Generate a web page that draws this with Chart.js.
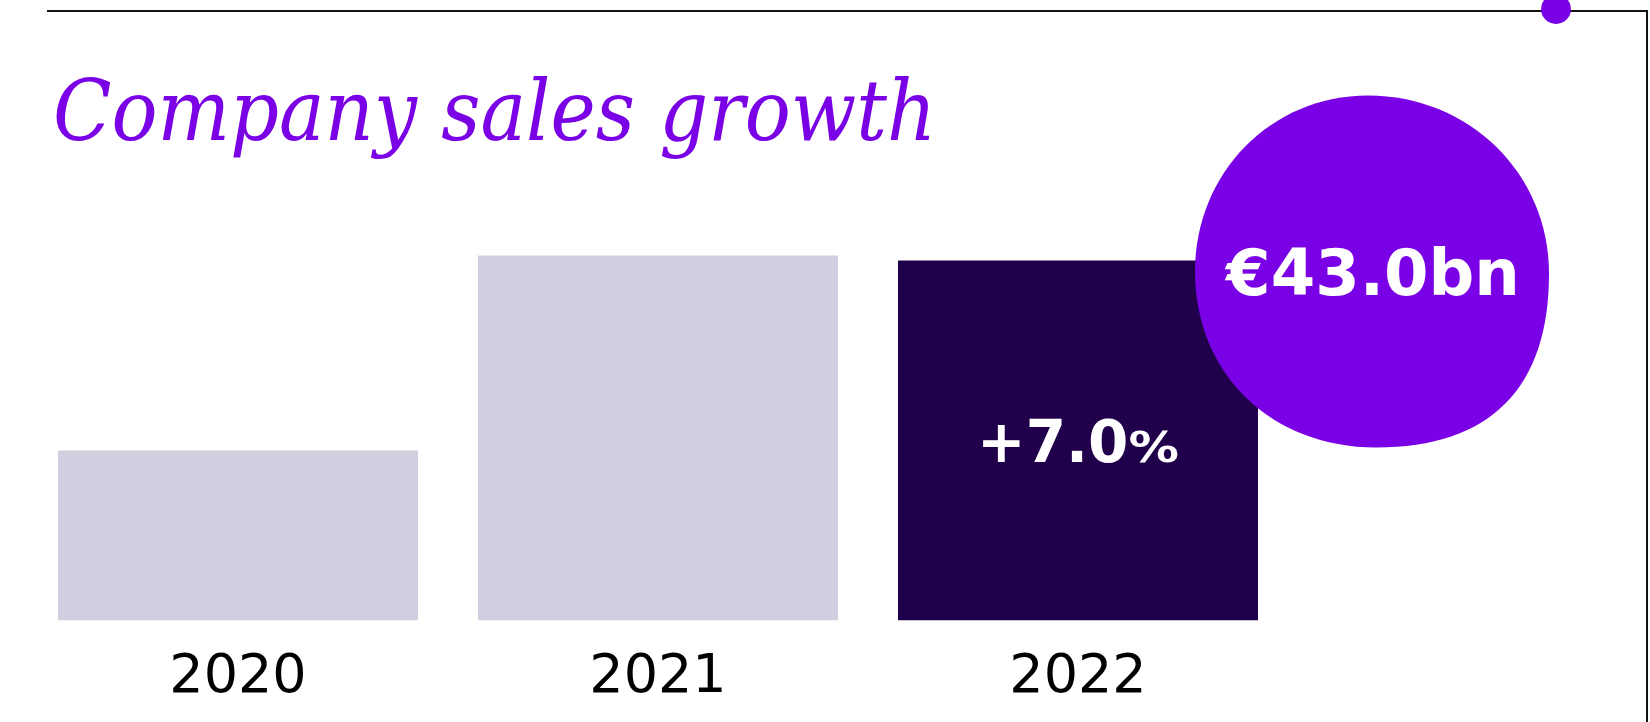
<!DOCTYPE html>
<html>
<head>
<meta charset="utf-8">
<title>Company sales growth</title>
<script src="https://cdn.jsdelivr.net/npm/chart.js@4.4.0/dist/chart.umd.min.js"></script>
<style>
  html, body { margin: 0; padding: 0; background: #fff; }
  #wrap { width: 1650px; height: 722px; }
</style>
</head>
<body>
<div id="wrap"><canvas id="salesChart" width="1650" height="722"></canvas></div>
<script>
// sales in € bn per year, growth in % (only shown for the latest year)
const years = ['2020', '2021', '2022'];
const sales = [20.3, 43.6, 43.0];
const growth = [null, null, 7.0];

const PURPLE = '#7A00E6';
const LIGHT = '#D2CEDF';
const DARK = '#20004A';

// one quarter of the blob: from a top/bottom point to a side point (or back)
function quarter(ctx, a, b, k, aIsPole) {
  if (aIsPole) {
    ctx.bezierCurveTo(a.x + k * (b.x - a.x), a.y, b.x, b.y + k * (a.y - b.y), b.x, b.y);
  } else {
    ctx.bezierCurveTo(a.x, a.y + k * (b.y - a.y), b.x + k * (a.x - b.x), b.y, b.x, b.y);
  }
}

// frame, dot and title behind the bars; labels and the value blob on top
const decor = {
  id: 'decor',
  beforeDraw(chart) {
    const ctx = chart.ctx;
    ctx.save();
    // top rule + right edge
    ctx.strokeStyle = '#111';
    ctx.lineWidth = 2;
    ctx.beginPath();
    ctx.moveTo(47, 11);
    ctx.lineTo(1647, 11);
    ctx.lineTo(1647, chart.height);
    ctx.stroke();
    // small dot sitting on the rule
    ctx.fillStyle = PURPLE;
    ctx.beginPath();
    ctx.arc(1556, 9, 15, 0, Math.PI * 2);
    ctx.fill();
    // title
    ctx.font = "italic 85px 'DejaVu Serif'";
    ctx.fontStretch = 'condensed';
    ctx.textAlign = 'left';
    ctx.textBaseline = 'alphabetic';
    ctx.fillText('Company sales growth', 53, 140);
    ctx.restore();
  },
  afterDatasetsDraw(chart) {
    const ctx = chart.ctx;
    const bars = chart.getDatasetMeta(0).data;
    ctx.save();
    ctx.fillStyle = '#fff';
    ctx.textBaseline = 'alphabetic';
    ctx.textAlign = 'left';

    // growth label inside the bar: number large, % sign smaller and wide
    growth.forEach((g, i) => {
      if (g == null) return;
      const bar = bars[i];
      const num = (g >= 0 ? '+' : '') + g.toFixed(1);
      const pctStretch = 1.2;
      ctx.font = "bold 58px 'DejaVu Sans'";
      const w1 = ctx.measureText(num).width;
      ctx.font = "bold 42px 'DejaVu Sans'";
      const w2 = ctx.measureText('%').width * pctStretch;
      const x0 = bar.x - (w1 + w2) / 2;
      const yb = (bar.y + bar.base) / 2 + 21;
      ctx.font = "bold 58px 'DejaVu Sans'";
      ctx.fillText(num, x0, yb);
      ctx.save();
      ctx.translate(x0 + w1, yb);
      ctx.scale(pctStretch, 1);
      ctx.font = "bold 42px 'DejaVu Sans'";
      ctx.fillText('%', 0, 0);
      ctx.restore();
    });

    // blob with the latest sales figure, hooked to the last bar's corner
    const last = bars[bars.length - 1];
    const cx = last.x + 294;
    const cy = last.y + 11;
    const T = { x: cx - 4, y: cy - 176 };
    const R = { x: cx + 177, y: cy + 2 };
    const B = { x: cx + 4, y: cy + 176 };
    const L = { x: cx - 177, y: cy };
    ctx.fillStyle = PURPLE;
    ctx.beginPath();
    ctx.moveTo(T.x, T.y);
    quarter(ctx, T, R, 0.56, true);
    quarter(ctx, R, B, 0.66, false);
    quarter(ctx, B, L, 0.58, true);
    quarter(ctx, L, T, 0.56, false);
    ctx.closePath();
    ctx.fill();

    ctx.fillStyle = '#fff';
    ctx.textAlign = 'center';
    ctx.font = "bold 64px 'DejaVu Sans'";
    ctx.fillText('€' + sales[sales.length - 1].toFixed(1) + 'bn', cx + 1, cy + 23);
    ctx.restore();
  }
};

new Chart(document.getElementById('salesChart'), {
  type: 'bar',
  data: {
    labels: years,
    datasets: [{
      data: sales,
      backgroundColor: ctx => (ctx.dataIndex === years.length - 1 ? DARK : LIGHT),
      borderWidth: 0,
      categoryPercentage: 1,
      barPercentage: 360 / 420
    }]
  },
  options: {
    responsive: false,
    animation: false,
    layout: { padding: { top: 202, bottom: 0, left: 28, right: 362 } },
    plugins: {
      legend: { display: false },
      tooltip: { enabled: false },
      title: { display: false }
    },
    scales: {
      x: {
        grid: { display: false, drawTicks: false },
        border: { display: false },
        afterFit(scale) { scale.height = 101.5; },
        ticks: {
          color: '#000',
          padding: 25,
          font: { family: "'DejaVu Sans'", size: 54 }
        }
      },
      y: {
        display: false,
        min: 0,
        max: 50
      }
    }
  },
  plugins: [decor]
});
</script>
</body>
</html>
